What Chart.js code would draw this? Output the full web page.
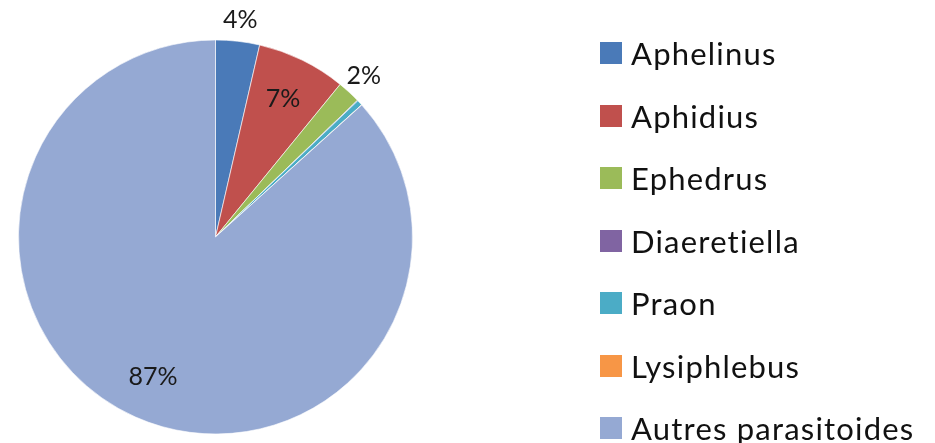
<!DOCTYPE html>
<html>
<head>
<meta charset="utf-8">
<script src="https://cdn.jsdelivr.net/npm/chart.js@4/dist/chart.umd.min.js"></script>
<style>
  html, body { margin: 0; padding: 0; background: #fff; }
  #wrap { position: relative; width: 935px; height: 443px; }
  #legend { position: absolute; left: 600px; top: 21.75px; font-family: Lato, "Open Sans", sans-serif; font-size: 31px; letter-spacing: 1.2px; color: #111; }
  .row { height: 62.5px; display: flex; align-items: center; white-space: nowrap; }
  .box { width: 22px; height: 22px; margin-right: 9px; flex: none; }
</style>
</head>
<body>
<div id="wrap">
  <canvas id="chart" width="935" height="443"></canvas>
  <div id="legend"></div>
</div>
<script>
// parasitoid shares (%)
const categories = ['Aphelinus', 'Aphidius', 'Ephedrus', 'Diaeretiella', 'Praon', 'Lysiphlebus', 'Autres parasitoides'];
const shares = [3.6, 7.3, 1.9, 0.05, 0.45, 0.02, 86.7];
const sliceLabels = ['4%', '7%', '2%', '', '', '', '87%'];
const colors = ['#4A7AB8', '#C0504D', '#9BBB59', '#8064A2', '#4BACC6', '#F79646', '#95A9D3'];

// html legend
const legend = document.getElementById('legend');
categories.forEach((name, i) => {
    const row = document.createElement('div');
    row.className = 'row';
    const box = document.createElement('span');
    box.className = 'box';
    box.style.background = colors[i];
    row.appendChild(box);
    row.appendChild(document.createTextNode(name));
    legend.appendChild(row);
});

// percent labels: small slices get theirs outside the pie
const sliceLabelPlugin = {
    id: 'sliceLabels',
    afterDatasetsDraw(chart) {
        const ctx = chart.ctx;
        const meta = chart.getDatasetMeta(0);
        ctx.save();
        ctx.font = '25px Lato, "Open Sans", sans-serif';
        ctx.fillStyle = '#1a1a1a';
        ctx.textAlign = 'center';
        ctx.textBaseline = 'middle';
        meta.data.forEach((arc, i) => {
            const text = sliceLabels[i];
            if (!text) return;
            const { x, y, startAngle, endAngle, outerRadius } = arc.getProps(['x', 'y', 'startAngle', 'endAngle', 'outerRadius'], true);
            const mid = (startAngle + endAngle) / 2;
            const r = shares[i] < 5 ? outerRadius * 1.11 : outerRadius * 0.78;
            ctx.fillText(text, x + Math.cos(mid) * r, y + Math.sin(mid) * r);
        });
        ctx.restore();
    }
};

new Chart(document.getElementById('chart'), {
    type: 'pie',
    data: {
        labels: categories,
        datasets: [{
            data: shares,
            backgroundColor: colors,
            borderColor: 'rgba(255,255,255,0.6)',
            borderWidth: 1,
        }],
    },
    options: {
        responsive: false,
        animation: false,
        layout: { padding: { left: 18, right: 522, top: 39.5, bottom: 8.5 } },
        plugins: {
            legend: { display: false },
            tooltip: { enabled: false },
        },
    },
    plugins: [sliceLabelPlugin],
});
</script>
</body>
</html>
